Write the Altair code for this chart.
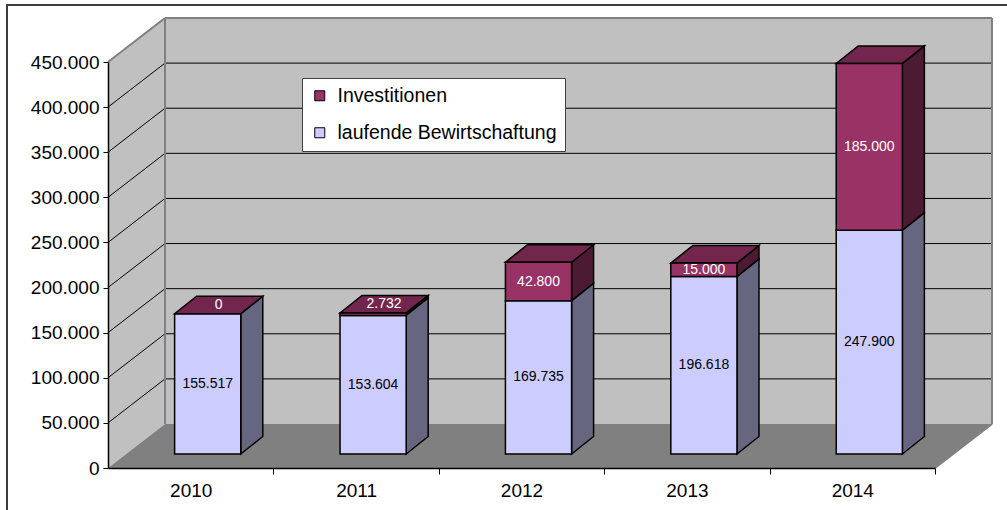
import altair as alt
import pandas as pd

# ---------------- data ----------------
years = ["2010", "2011", "2012", "2013", "2014"]
laufende = [155517, 153604, 169735, 196618, 247900]
investitionen = [0, 2732, 42800, 15000, 185000]
series = ["Investitionen", "laufende Bewirtschaftung"]
y_ticks = [0, 50000, 100000, 150000, 200000, 250000, 300000, 350000, 400000, 450000]

# ---------------- styles ----------------
FRONT = {"Investitionen": "#993366", "laufende Bewirtschaftung": "#ccccff"}
SIDE = {"Investitionen": "#4d1a33", "laufende Bewirtschaftung": "#666680"}
TOP = "#73264d"
WALL = "#c0c0c0"
FLOOR = "#808080"
EDGE = "#808080"
FONT = "Liberation Sans"

PLOT_W, PLOT_H = 827, 406
N = len(years)
YMAX = y_ticks[-1]
ux = N / PLOT_W          # data units per pixel (x)
uy = YMAX / PLOT_H       # data units per pixel (y)

WALL_DX, WALL_DY = 57 * ux, 44 * uy     # depth of the 3D box
FRONT_DX, FRONT_DY = 17 * ux, 14 * uy   # bar front plane offset
BAR_DX, BAR_DY = 22 * ux, 17.5 * uy     # bar depth
BAR_W = 0.4

# ---------------- derived geometry tables ----------------
seg_rows, side_rows, top_rows, label_rows = [], [], [], []
for i, yr in enumerate(years):
    x0 = i + 0.5 - BAR_W / 2 + FRONT_DX
    x1 = x0 + BAR_W
    base = 0
    for s, vals in (("laufende Bewirtschaftung", laufende), ("Investitionen", investitionen)):
        v = vals[i]
        y0 = base + FRONT_DY
        y1 = base + v + FRONT_DY
        seg_rows.append(dict(year=yr, series=s, x0=x0, x1=x1, y0=y0, y1=y1))
        pid = f"{yr}-{s}"
        side_rows.append(dict(pid=pid, series=s, x=x1, lo=y0, hi=y1))
        side_rows.append(dict(pid=pid, series=s, x=x1 + BAR_DX, lo=y0 + BAR_DY, hi=y1 + BAR_DY))
        txt = f"{v:,}".replace(",", ".")
        if v / uy < 8:
            lx, ly = (x0 + x1) / 2 + BAR_DX / 2, y1 + BAR_DY / 2
        else:
            lx, ly = (x0 + x1) / 2, (y0 + y1) / 2
        label_rows.append(dict(series=s, x=lx, y=ly, text=txt))
        base += v
    t = base + FRONT_DY
    pid = f"{yr}-top"
    top_rows += [
        dict(pid=pid, x=x0, lo=t, hi=t),
        dict(pid=pid, x=x0 + BAR_DX, lo=t, hi=t + BAR_DY),
        dict(pid=pid, x=x1, lo=t, hi=t + BAR_DY),
        dict(pid=pid, x=x1 + BAR_DX, lo=t + BAR_DY, hi=t + BAR_DY),
    ]

segs = pd.DataFrame(seg_rows)
sides = pd.DataFrame(side_rows)
tops = pd.DataFrame(top_rows)
labels = pd.DataFrame(label_rows)

left_wall = pd.DataFrame([
    dict(x=0, lo=0, hi=YMAX),
    dict(x=WALL_DX, lo=WALL_DY, hi=YMAX + WALL_DY),
])
floor = pd.DataFrame([
    dict(x=0, lo=0, hi=0),
    dict(x=WALL_DX, lo=0, hi=WALL_DY),
    dict(x=N, lo=0, hi=WALL_DY),
    dict(x=N + WALL_DX, lo=WALL_DY, hi=WALL_DY),
])
back_wall = pd.DataFrame([dict(x0=WALL_DX, x1=N + WALL_DX, y0=WALL_DY, y1=YMAX + WALL_DY)])

grid_rows = []
for t in y_ticks[1:-1]:
    grid_rows.append(dict(x0=WALL_DX, x1=N + WALL_DX, y0=t + WALL_DY, y1=t + WALL_DY))
    grid_rows.append(dict(x0=0, x1=WALL_DX, y0=t, y1=t + WALL_DY))
grid = pd.DataFrame(grid_rows)

edges = pd.DataFrame([
    dict(x0=0, x1=WALL_DX, y0=YMAX, y1=YMAX + WALL_DY),
    dict(x0=WALL_DX, x1=N + WALL_DX, y0=YMAX + WALL_DY, y1=YMAX + WALL_DY),
    dict(x0=N + WALL_DX, x1=N + WALL_DX, y0=WALL_DY, y1=YMAX + WALL_DY),
    dict(x0=N, x1=N + WALL_DX, y0=0, y1=WALL_DY),
    dict(x0=WALL_DX, x1=WALL_DX, y0=WALL_DY, y1=YMAX + WALL_DY),
])

# ---------------- scales / axes ----------------
xs = alt.Scale(domain=[0, N], nice=False, zero=False)
ys = alt.Scale(domain=[0, YMAX], nice=False, zero=False)

x_axis = alt.Axis(
    values=list(range(1, N + 1)),
    labelExpr=f"{years}[datum.value - 1]",
    labelOffset=-PLOT_W / N / 2,
    labelFlush=False, labelOverlap=False,
    tickSize=6, tickColor="black", tickWidth=1,
    domainColor="black", domainWidth=1.5,
    labelFontSize=19, labelColor="black", labelFont=FONT,
    labelPadding=7, grid=False, title=None, zindex=1,
)
y_axis = alt.Axis(
    values=y_ticks,
    labelExpr="replace(format(datum.value, ','), ',', '.')",
    labelFlush=False, labelOverlap=False,
    tickSize=5, tickColor="black", tickWidth=1,
    domainColor="black", domainWidth=1.5,
    labelFontSize=19, labelColor="black", labelFont=FONT,
    labelPadding=4, grid=False, title=None, zindex=1,
)


def X(f):
    return alt.X(f, type="quantitative", scale=xs, axis=x_axis, title=None)


def Y(f):
    return alt.Y(f, type="quantitative", scale=ys, axis=y_axis, stack=None, title=None)


frame = alt.Chart(pd.DataFrame([{"k": 0}])).mark_rect(
    fill="white", fillOpacity=0, stroke="#3c3c3c", strokeWidth=2
).encode(x=alt.value(-101), x2=alt.value(910), y=alt.value(-57), y2=alt.value(460))

lw = alt.Chart(left_wall).mark_area(color=WALL, orient="vertical").encode(
    x=X("x"), y=Y("lo"), y2="hi")
fl = alt.Chart(floor).mark_area(color=FLOOR, orient="vertical").encode(
    x=X("x"), y=Y("lo"), y2="hi")
bw = alt.Chart(back_wall).mark_rect(color=WALL).encode(
    x=X("x0"), x2="x1", y=Y("y0"), y2="y1")
gl = alt.Chart(grid).mark_rule(color="black", strokeWidth=1).encode(
    x=X("x0"), x2="x1", y=Y("y0"), y2="y1")
ed = alt.Chart(edges).mark_rule(color=EDGE, strokeWidth=2).encode(
    x=X("x0"), x2="x1", y=Y("y0"), y2="y1")

side_layers = []
for s in series:
    side_layers.append(
        alt.Chart(sides[sides.series == s]).mark_area(
            color=SIDE[s], orient="vertical", stroke="black", strokeWidth=1.5, strokeJoin="miter"
        ).encode(x=X("x"), y=Y("lo"), y2="hi", detail="pid:N")
    )
top_layer = alt.Chart(tops).mark_area(
    color=TOP, orient="vertical", stroke="black", strokeWidth=1.5, strokeJoin="miter"
).encode(x=X("x"), y=Y("lo"), y2="hi", detail="pid:N")

fronts = alt.Chart(segs).mark_rect(stroke="black", strokeWidth=1.5).encode(
    x=X("x0"), x2="x1", y=Y("y0"), y2="y1",
    color=alt.Color(
        "series:N",
        scale=alt.Scale(domain=series, range=[FRONT[s] for s in series]),
        legend=alt.Legend(
            title=None, orient="none", legendX=194, legendY=16,
            fillColor="white", strokeColor="#404040", padding=8,
            symbolType="square", symbolSize=100, symbolStrokeColor="black",
            symbolStrokeWidth=1, symbolOpacity=1,
            labelFontSize=19.5, labelFont=FONT, labelColor="black",
            labelOffset=8, rowPadding=16, labelLimit=500,
        ),
    ),
)

txt_dark = alt.Chart(labels[labels.series == "laufende Bewirtschaftung"]).mark_text(
    fontSize=14, font=FONT, color="black", align="center", baseline="middle"
).encode(x=X("x"), y=Y("y"), text="text:N")
txt_light = alt.Chart(labels[labels.series == "Investitionen"]).mark_text(
    fontSize=14, font=FONT, color="white", align="center", baseline="middle"
).encode(x=X("x"), y=Y("y"), text="text:N")

chart = alt.layer(
    frame, lw, fl, bw, gl, ed, *side_layers, top_layer, fronts, txt_dark, txt_light
).properties(
    width=PLOT_W, height=PLOT_H,
    autosize=alt.AutoSizeParams(type="none"),
    padding={"left": 108, "top": 62, "right": 72, "bottom": 42},
).configure_view(stroke=None).configure(font=FONT, background="white")

chart.save("out.html", embed_options={"renderer": "svg", "actions": False})
